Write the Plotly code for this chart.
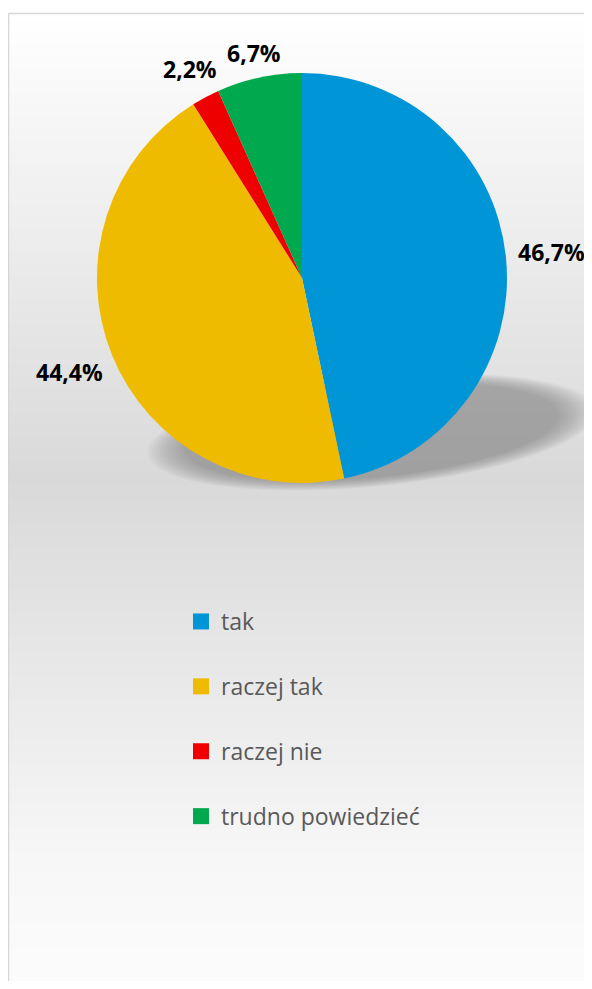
import math
import plotly.graph_objects as go

# ---- data ----
categories = ["tak", "raczej tak", "raczej nie", "trudno powiedzieć"]
values = [46.7, 44.4, 2.2, 6.7]
colors = ["#0095d6", "#efbb00", "#ee0000", "#00a84e"]

# figure sits inside the page's 8px body margin
OFF = 8
W, H = 576, 973

def px(x):
    return (x - OFF) / W

def py(y):
    return 1 - (y - OFF) / H

shapes = []

# background gradient (chart area) as thin bands
stops = [(13, 255), (480, 217), (860, 247), (989, 252)]

def grey_at(y):
    for (y0, c0), (y1, c1) in zip(stops[:-1], stops[1:]):
        if y0 <= y <= y1:
            return c0 + (c1 - c0) * (y - y0) / (y1 - y0)
    return stops[-1][1]

step = 4
y = 13
while y < OFF + H:
    g = int(round(grey_at(y + step / 2)))
    shapes.append(dict(type="rect", xref="paper", yref="paper",
                       x0=px(8), x1=1.0, y0=max(0, py(y + step)), y1=py(y),
                       fillcolor=f"rgb({g},{g},{g})", line=dict(width=0),
                       layer="below"))
    y += step

# border of chart area
shapes.append(dict(type="line", xref="paper", yref="paper",
                   x0=px(8.5), x1=px(8.5), y0=0, y1=py(13.5),
                   line=dict(color="#d6d6d6", width=1.5), layer="below"))
shapes.append(dict(type="line", xref="paper", yref="paper",
                   x0=px(8.5), x1=1.0, y0=py(13.5), y1=py(13.5),
                   line=dict(color="#d6d6d6", width=1.5), layer="below"))

# soft shadow beneath pie (stacked translucent ellipses)
cx, cy, a, b, phi = 372, 432, 215, 52, math.radians(-5.5)
n_layers = 16
for k in range(n_layers):
    s = 1.05 - k * 0.012
    pts = []
    for i in range(97):
        t = 2 * math.pi * i / 96
        lx, ly = a * s * math.cos(t), b * s * math.sin(t)
        X = cx + lx * math.cos(phi) - ly * math.sin(phi)
        Y = cy + lx * math.sin(phi) + ly * math.cos(phi)
        pts.append(f"{px(X):.5f},{py(Y):.5f}")
    path = "M " + " L ".join(pts) + " Z"
    shapes.append(dict(type="path", xref="paper", yref="paper", path=path,
                       fillcolor="#6a6a6a", opacity=0.045,
                       line=dict(width=0), layer="below"))

# pie geometry (page pixels)
PCX, PCY, PR = 302, 278, 205

fig = go.Figure()

fig.add_trace(go.Pie(
    labels=categories,
    values=values,
    sort=False,
    direction="clockwise",
    rotation=0,
    marker=dict(colors=colors, line=dict(width=0)),
    textinfo="none",
    domain=dict(x=[px(PCX - PR), px(PCX + PR)], y=[py(PCY + PR), py(PCY - PR)]),
    showlegend=False,
    hoverinfo="label+percent",
))

# data labels placed outside each slice, at the slice's mid-angle
total = sum(values)
cum = 0.0
annotations = []
for v in values:
    mid = 2 * math.pi * (cum + v / 2) / total
    cum += v
    txt = f"{v:.1f}%".replace(".", ",")
    hw = 5.6 * len(txt) + 5
    hh = 8
    ext = abs(math.sin(mid)) * hw + abs(math.cos(mid)) * hh
    r = PR + 12 + ext
    X = PCX + r * math.sin(mid)
    Y = PCY - r * math.cos(mid)
    annotations.append(dict(
        x=px(X), y=py(Y), xref="paper", yref="paper",
        text=f"<b>{txt}</b>", showarrow=False,
        xanchor="center", yanchor="middle",
        font=dict(family="Open Sans", size=23, color="#000000"),
    ))

for name, col in zip(categories, colors):
    fig.add_trace(go.Scatter(
        x=[None], y=[None], mode="markers", name=name,
        marker=dict(symbol="square", size=16, color=col),
        showlegend=True, legendgroup=name,
    ))

fig.update_layout(
    width=W, height=H,
    margin=dict(l=0, r=0, t=0, b=0, pad=0),
    paper_bgcolor="#ffffff",
    plot_bgcolor="rgba(0,0,0,0)",
    separators=", ",
    shapes=shapes,
    annotations=annotations,
    xaxis=dict(visible=False),
    yaxis=dict(visible=False),
    legend=dict(
        x=px(181), y=py(600), xanchor="left", yanchor="top",
        font=dict(family="Open Sans", size=23, color="#595959"),
        bgcolor="rgba(0,0,0,0)",
        tracegroupgap=32,
        itemwidth=30,
    ),
    showlegend=True,
)

fig.write_html("out.html")
